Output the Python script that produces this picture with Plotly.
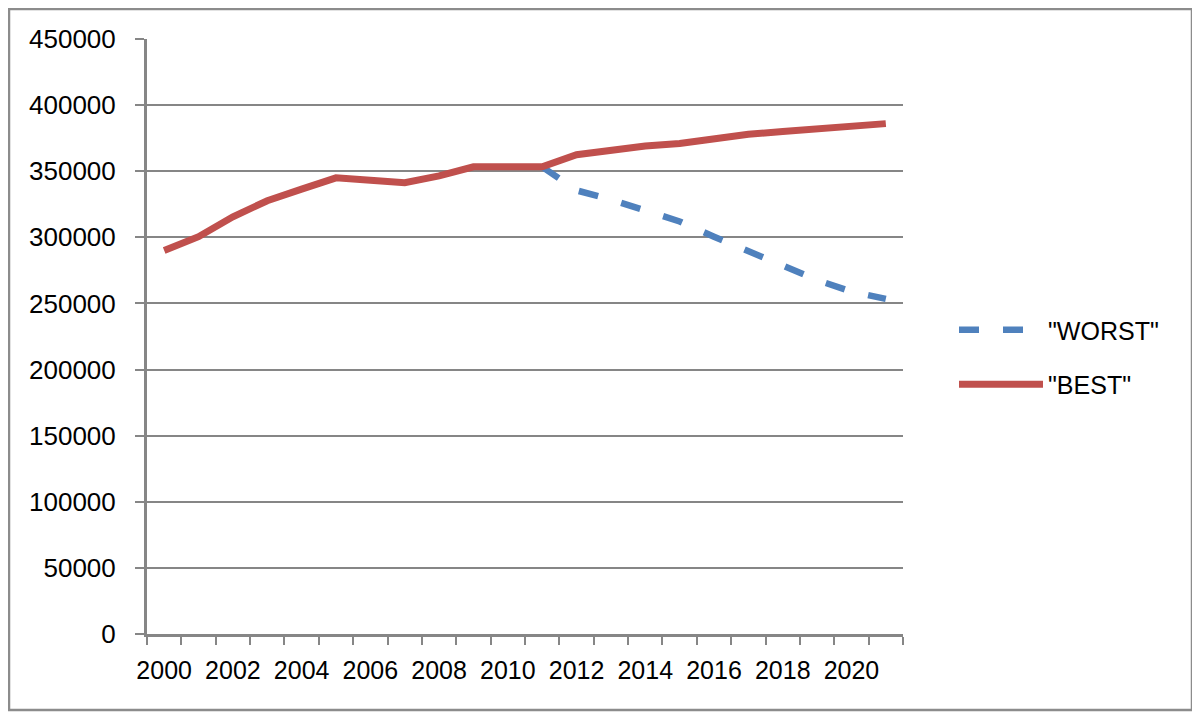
import plotly.graph_objects as go

years = list(range(2000, 2022))
best = [290000, 300500, 315500, 327700, 336500, 345000, 343200, 341300, 346500, 353300,
        353300, 353300, 362500, 366000, 369000, 371000, 374500, 378000, 380000, 382000,
        384500, 386000]
worst = [None] * 11 + [353300, 335500, 328500, 320500, 312000, 300500, 289500, 278000,
                       267700, 259000, 253500]
x_tick_years = list(range(2000, 2021, 2))
y_ticks = list(range(0, 450001, 50000))

GRAY = "#868686"
RED = "#C0504D"
BLUE = "#4F81BD"
FONT = "Liberation Sans"

fig = go.Figure()
fig.add_trace(go.Scatter(x=years, y=worst, name='"WORST"', mode="lines",
                         line=dict(color=BLUE, width=6.5, dash="20px,24px"),
                         legendgroup="w", connectgaps=False))
fig.add_trace(go.Scatter(x=years, y=best, name='"BEST"', mode="lines",
                         line=dict(color=RED, width=7), legendgroup="b"))

OFF = 8  # page body margin
FW, FH = 1192, 710
L = 147 - OFF
T = 39 - OFF
R = FW - (903 - OFF)
B = FH - (634 - OFF)
W = FW - L - R
H = FH - T - B

def px(x):  # page x -> paper
    return (x - OFF - L) / W

def py(y):  # page y -> paper
    return (FH - B - (y - OFF)) / H

fig.update_layout(
    width=FW, height=FH,
    margin=dict(l=L, r=R, t=T, b=B),
    paper_bgcolor="white", plot_bgcolor="white",
    font=dict(family=FONT, size=25, color="black"),
    showlegend=True,
    legend=dict(x=px(954), y=py(307), xanchor="left", yanchor="top",
                font=dict(family=FONT, size=25, color="black"),
                tracegroupgap=19, itemwidth=84, bgcolor="rgba(0,0,0,0)"),
    xaxis=dict(range=[1999.5, 2021.5], tickmode="array", tickvals=x_tick_years,
               ticktext=[str(v) for v in x_tick_years],
               showgrid=False, showline=True, linecolor=GRAY, linewidth=3,
               ticks="outside", ticklen=8, tickcolor="rgba(0,0,0,0)",
               ticklabelstandoff=4,
               minor=dict(tick0=1999.5, dtick=1, ticks="outside", ticklen=8,
                          tickcolor=GRAY, tickwidth=2, showgrid=False),
               zeroline=False, tickfont=dict(family=FONT, size=25)),
    yaxis=dict(range=[0, 450000], tickmode="array", tickvals=y_ticks,
               tickformat="d", showgrid=True, gridcolor=GRAY, gridwidth=2,
               showline=True, linecolor=GRAY, linewidth=3,
               ticks="outside", ticklen=9, tickcolor=GRAY, tickwidth=2,
               ticklabelstandoff=14, zeroline=False,
               tickfont=dict(family=FONT, size=26)),
    shapes=[dict(type="rect", xref="paper", yref="paper",
                 x0=px(9), x1=px(1192), y0=py(710), y1=py(9),
                 line=dict(color="#8C8C8C", width=2.5), fillcolor="rgba(0,0,0,0)",
                 layer="below")],
)

fig.write_html("out.html")
